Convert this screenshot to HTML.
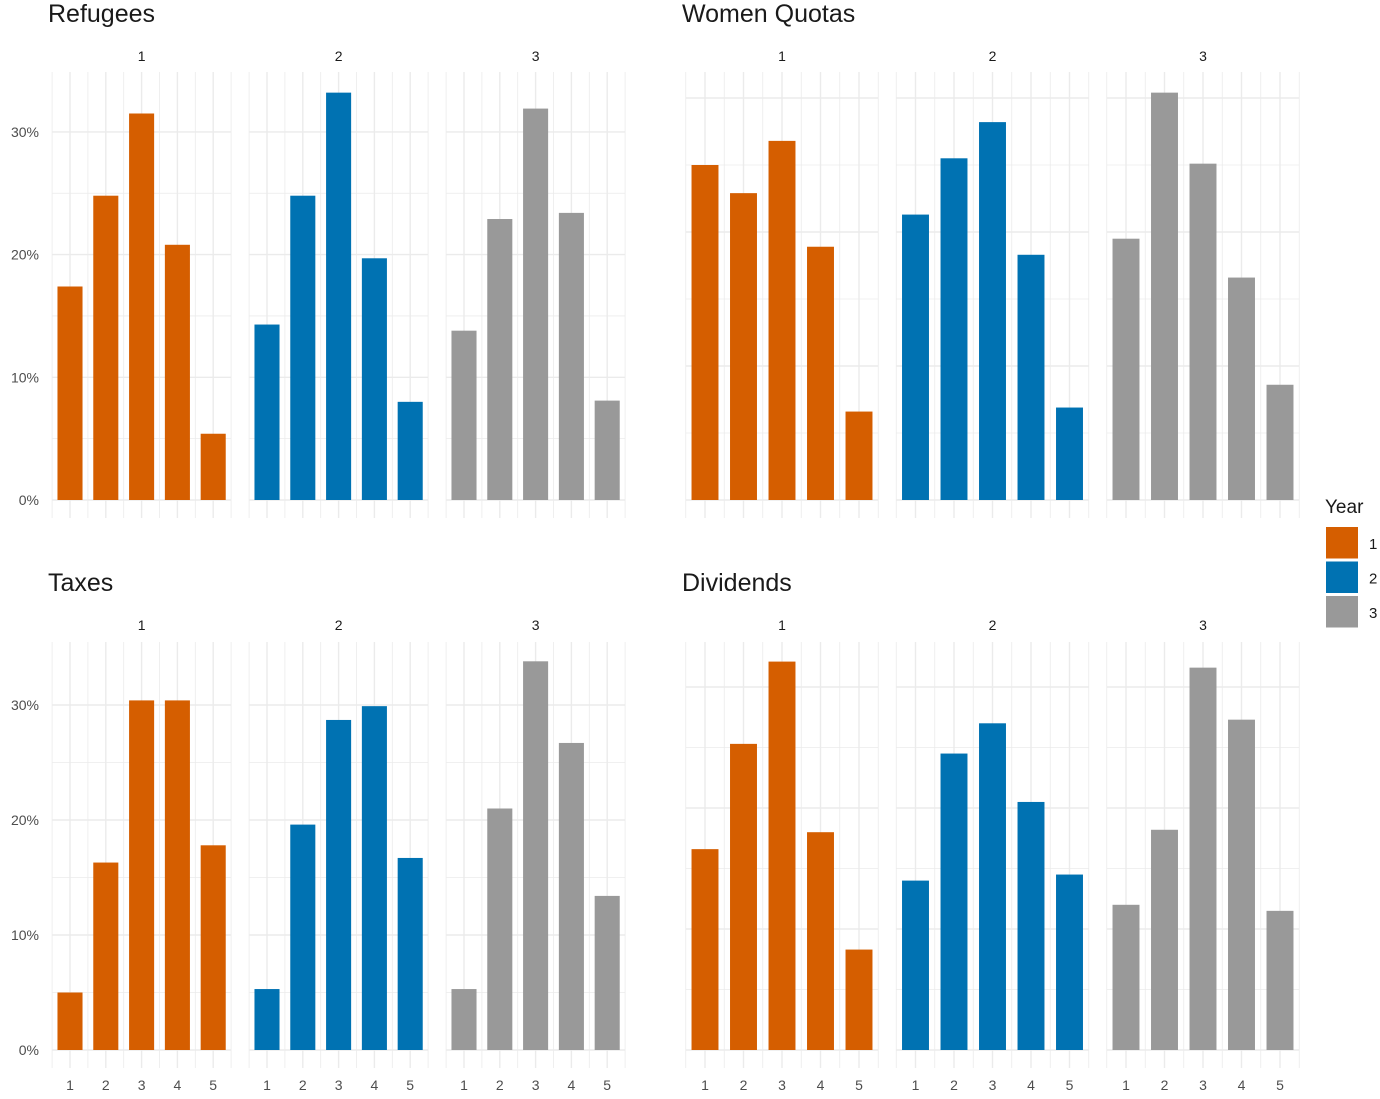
<!DOCTYPE html>
<html><head><meta charset="utf-8"><style>
body{margin:0;background:#fff;}
svg text{font-family:"Liberation Sans",Arial,sans-serif;}
</style></head><body>
<svg id="chart" width="1380" height="1094" xmlns="http://www.w3.org/2000/svg"></svg>
<script>
const categories=[1,2,3,4,5];
const years=[1,2,3];
const colors=['#D55E00','#0072B2','#999999'];
const panelTitles=['Refugees','Women Quotas','Taxes','Dividends'];
const refugees=[[17.4,24.8,31.5,20.8,5.4],[14.3,24.8,33.2,19.7,8.0],[13.8,22.9,31.9,23.4,8.1]];
const womenQuotas=[[25.0,22.9,26.8,18.9,6.6],[21.3,25.5,28.2,18.3,6.9],[19.5,30.4,25.1,16.6,8.6]];
const taxes=[[5.0,16.3,30.4,30.4,17.8],[5.3,19.6,28.7,29.9,16.7],[5.3,21.0,33.8,26.7,13.4]];
const dividends=[[16.6,25.3,32.1,18.0,8.3],[14.0,24.5,27.0,20.5,14.5],[12.0,18.2,31.6,27.3,11.5]];
const yTickLabels=['0%','10%','20%','30%'];
const yTicks=[0,10,20,30];

const svg=document.getElementById('chart');
const NS='http://www.w3.org/2000/svg';
function mk(tag,attrs,parent){const e=document.createElementNS(NS,tag);for(const k in attrs)e.setAttribute(k,attrs[k]);(parent||svg).appendChild(e);return e;}

const panels=[
 {data:refugees,title:panelTitles[0],tx:48,ty:22,stripY:61,x0:70,step:35.8,fgap:197,y0:500,ppu:12.27,top:72,bottom:518,ylab:true,xlab:false},
 {data:womenQuotas,title:panelTitles[1],tx:682,ty:22,stripY:61,x0:705,step:38.5,fgap:210.5,y0:500,ppu:13.4,top:72,bottom:518,ylab:false,xlab:false},
 {data:taxes,title:panelTitles[2],tx:48,ty:591,stripY:630,x0:70,step:35.8,fgap:197,y0:1050,ppu:11.5,top:642,bottom:1068,ylab:true,xlab:true},
 {data:dividends,title:panelTitles[3],tx:682,ty:591,stripY:630,x0:705,step:38.5,fgap:210.5,y0:1050,ppu:12.1,top:642,bottom:1068,ylab:false,xlab:true}
];

panels.forEach((p,pi)=>{
  const g=mk('g',{});
  
  
  const t=mk('text',{x:p.tx,y:p.ty,'font-size':25,fill:'#1a1a1a'},g);t.textContent=p.title;
  
  
  const yScale=v=>p.y0-v*p.ppu;
  years.forEach((yr,fi)=>{
    const cx=i=>p.x0+fi*p.fgap+i*p.step;
    const left=cx(0)-0.5*p.step, right=cx(4)+0.5*p.step;
    const fg=mk('g',{},g);
    
    
    for(let v=0;v<=30;v+=5){
      mk('line',{x1:left,x2:right,y1:yScale(v),y2:yScale(v),stroke:'#ebebeb','stroke-width':v%10===0?1.4:0.8},fg);
    }
    for(let k=-0.5;k<=4.5;k+=0.5){
      mk('line',{x1:cx(k),x2:cx(k),y1:p.top,y2:p.bottom,stroke:'#ebebeb','stroke-width':Number.isInteger(k)?1.4:0.8},fg);
    }
    const st=mk('text',{x:cx(2),y:p.stripY,'font-size':14,fill:'#1a1a1a','text-anchor':'middle'},fg);st.textContent=yr;
    
    
    p.data[fi].forEach((v,i)=>{
      const w=p.step*0.7;
      const r=mk('rect',{x:cx(i)-w/2,y:yScale(v),width:w,height:v*p.ppu,fill:colors[fi]},fg);
      
      
      if(p.xlab){
        const xl=mk('text',{x:cx(i),y:1090,'font-size':14,fill:'#4d4d4d','text-anchor':'middle'},fg);xl.textContent=categories[i];
        
        
      }
    });
  });
  if(p.ylab){
    yTicks.forEach((v,i)=>{
      const yl=mk('text',{x:39,y:yScale(v)+5,'font-size':14,fill:'#4d4d4d','text-anchor':'end'},g);yl.textContent=yTickLabels[i];
      
      
    });
  }
});
const lg=mk('g',{});


const lt=mk('text',{x:1325,y:513,'font-size':19,fill:'#1a1a1a'},lg);lt.textContent='Year';


years.forEach((yr,i)=>{
  const y=527+i*34.5;
  const k=mk('rect',{x:1326,y:y,width:32,height:31.5,fill:colors[i]},lg);
  
  
  const l=mk('text',{x:1369,y:y+22,'font-size':15,fill:'#1a1a1a'},lg);l.textContent=yr;
  
  
});
</script>
</body></html>
